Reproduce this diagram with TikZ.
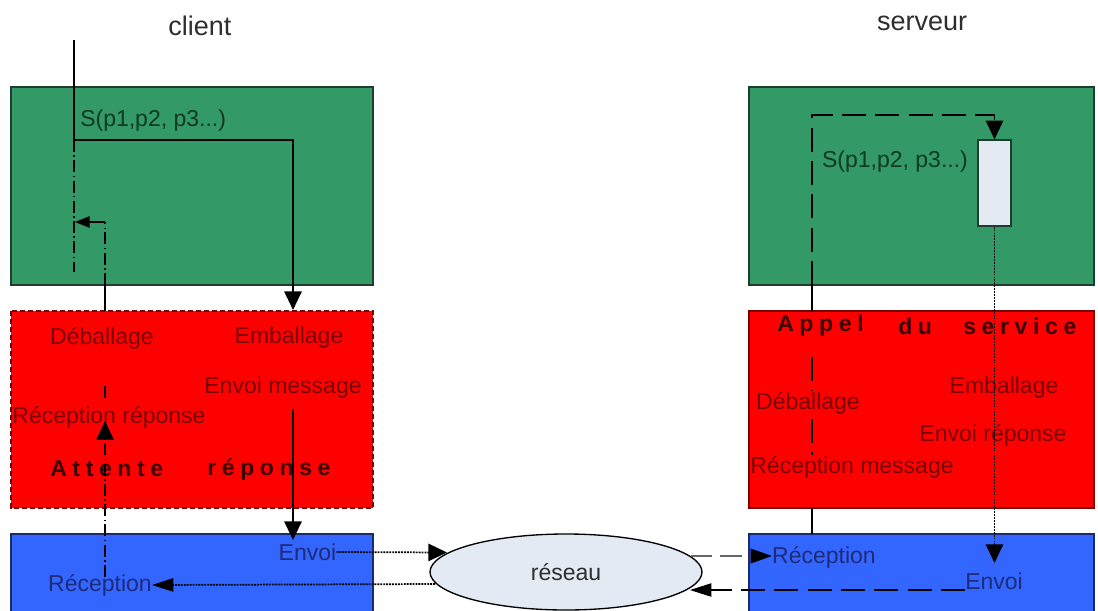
\documentclass[tikz,border=0pt]{standalone}
\usepackage{fontspec}
\setmainfont{Liberation Sans}
\newfontfamily\spacedfont[LetterSpace=24.5]{Liberation Sans}
\usetikzlibrary{arrows.meta,shapes.geometric}

\definecolor{boxgreen}{HTML}{339966}
\definecolor{boxred}{HTML}{FF0000}
\definecolor{boxblue}{HTML}{3366FF}
\definecolor{edgegreen}{HTML}{1E3D2C}
\definecolor{edgered}{HTML}{7A0000}
\definecolor{edgeblue}{HTML}{1A2A6A}
\definecolor{txtred}{HTML}{7A0000}
\definecolor{txtblue}{HTML}{1E2A7A}
\definecolor{txtgreen}{HTML}{0E3A20}
\definecolor{txtdark}{HTML}{3A0000}
\definecolor{paleblue}{HTML}{E4EAF4}
\definecolor{titlegray}{HTML}{2E2E2E}

\tikzset{
  lbl/.style={inner sep=0pt, font=\fontsize{17.25}{20}\selectfont},
  redtxt/.style={lbl, text=txtred},
  bluetxt/.style={lbl, text=txtblue},
  greentxt/.style={lbl, text=txtgreen},
  titletxt/.style={inner sep=0pt, font=\fontsize{20.25}{24}\selectfont, text=titlegray},
  spaced/.style={inner sep=0pt, anchor=west, text=txtdark,
    font=\spacedfont\bfseries\fontsize{17.25}{20}\selectfont},
  greenbox/.style={fill=boxgreen, draw=edgegreen, line width=1.2pt},
  redbox/.style={fill=boxred, draw=edgered, line width=0.9pt},
  bluebox/.style={fill=boxblue, draw=edgeblue, line width=1.2pt},
  tip/.style={-{Triangle[length=14pt,width=13pt]}},
  slimtip/.style={-{Triangle[length=16pt,width=10pt]}},
  smalltip/.style={-{Triangle[length=11pt,width=8.5pt]}},
  lifeline/.style={line width=1pt},
  callline/.style={line width=1.5pt},
  dashdotline/.style={line width=1pt, dash pattern=on 9pt off 2.5pt on 1.2pt off 2.5pt},
  longdash/.style={line width=1pt, dash pattern=on 18pt off 7pt},
  dotline/.style={line width=1.3pt, dash pattern=on 1.4pt off 0.8pt},
}

\begin{document}
\begin{tikzpicture}[x=0.75pt, y=-0.75pt]
  \clip (0,0) rectangle (1098,610);
  \fill[white] (0,0) rectangle (1098,610);

  % ---------- boxes ----------
  \draw[greenbox] (11,87) rectangle (373,285);
  \draw[redbox, dash pattern=on 4pt off 2pt] (11,311) rectangle (373,508);
  \draw[bluebox] (11,534) rectangle (373,614);

  \draw[greenbox] (749,87) rectangle (1094,285);
  \draw[redbox] (749,311) rectangle (1094,508);
  \draw[bluebox] (749,534) rectangle (1094,614);

  % ---------- titles ----------
  \node[titletxt] (tclient) at (200,26) {client};
  \node[titletxt] (tserveur) at (922,23) {serveur};

  % ---------- client side labels ----------
  \node[greentxt, anchor=west] (ccallname) at (80,121) {S(p1,p2, p3...)};
  \node[redtxt] (cdeb) at (102,338) {Déballage};
  \node[redtxt] (cemb) at (289,338) {Emballage};
  \node[redtxt] (cenvm) at (283,388) {Envoi message};
  \node[redtxt] (crecr) at (109,417) {Réception réponse};
  \node[spaced] (catt) at (50,469) {Attente};
  \node[spaced] (crep) at (207,469) {réponse};
  \node[bluetxt] (cenv) at (307.5,552) {Envoi};
  \node[bluetxt] (crec) at (100,585) {Réception};

  % ---------- server side labels ----------
  \node[spaced] (sappel) at (777,326) {Appel};
  \node[spaced] (sdu) at (898,326) {du};
  \node[spaced] (sserv) at (963,326) {service};
  \node[redtxt] (semb) at (1004,388) {Emballage};
  \node[redtxt] (sdeb) at (808,403) {Déballage};
  \node[redtxt] (senvr) at (993,435) {Envoi réponse};
  \node[redtxt] (srecm) at (852,467) {Réception message};
  \node[bluetxt] (srec) at (824,557) {Réception};
  \node[bluetxt] (senv) at (994,581) {Envoi};
  \node[greentxt] (scallname) at (895,162) {S(p1,p2, p3...)};

  % activation bar of the service
  \node[draw=edgegreen, fill=paleblue, line width=1pt, minimum width=24.75pt,
        minimum height=64.5pt, inner sep=0pt] (act) at (994.5,183) {};

  % network
  \node[ellipse, draw=black, line width=1pt, fill=paleblue, minimum width=204pt,
        minimum height=57pt, inner sep=0pt, text=titlegray,
        font=\fontsize{17.25}{20}\selectfont] (net) at (566,572) {réseau};

  % ---------- client connectors ----------
  \coordinate (ctop) at (74,40);
  \coordinate (ccall) at (74,140);
  \coordinate (cend) at (74,272);
  \coordinate (cbend) at (293,140);
  \coordinate (cpack) at (293,310);
  \coordinate (csend) at (293,409);
  \coordinate (csendend) at (293,540);
  \draw[lifeline] (ctop) -- (ccall);
  \draw[dashdotline] (ccall) -- (cend);
  \draw[callline, tip] (ccall) -- (cbend) -- (cpack);
  \draw[callline, tip] (csend) -- (csendend);

  \coordinate (rbot) at (105,577);
  \coordinate (rup) at (105,421);
  \coordinate (rseg1) at (105,386);
  \coordinate (rseg2) at (105,400);
  \coordinate (rout1) at (105,311);
  \coordinate (rout2) at (105,285);
  \coordinate (rturn) at (105,222);
  \coordinate (rback) at (75,222);
  \draw[dashdotline, tip] (rbot) -- (rup);
  \draw[dashdotline] (rseg1) -- (rseg2);
  \draw[lifeline] (rout1) -- (rout2);
  \draw[dashdotline] (rout2) -- (rturn);
  \draw[line width=1.3pt, smalltip] (rturn) -- (rback);

  % ---------- network connectors ----------
  \coordinate (netinA) at (447,552.5);
  \coordinate (netoutA) at (435,584);
  \coordinate (netoutB) at (691,556);
  \coordinate (netinB) at (690,590);
  \draw[dotline, tip] (cenv.east) -- (netinA);
  \draw[dotline, slimtip] (netoutA) -- (crec.east);
  \draw[line width=1.3pt, draw=black!60, dash pattern=on 16pt off 6pt,
        -{Triangle[length=16pt,width=11pt,black]}] (netoutB) -- (srec.west |- netoutB);
  \draw[longdash, line width=0.9pt, slimtip] (senv.west |- netinB) -- (netinB);

  % ---------- server connectors ----------
  \coordinate (slbot) at (812,285);
  \coordinate (sltop) at (812,115);
  \coordinate (sacttop) at (994.5,115);
  \draw[longdash, tip] (slbot) -- (sltop) -- (sacttop) -- (act.north);
  \draw[lifeline] (812,285) -- (812,311);
  \draw[lifeline] (812,508) -- (812,534);
  \draw[longdash] (812,357) -- (812,391);
  \draw[longdash] (812,419) -- (812,455);
  \coordinate (sdown) at (994.5,563);
  \draw[dotline, tip] (act.south) -- (sdown);
\end{tikzpicture}
\end{document}
